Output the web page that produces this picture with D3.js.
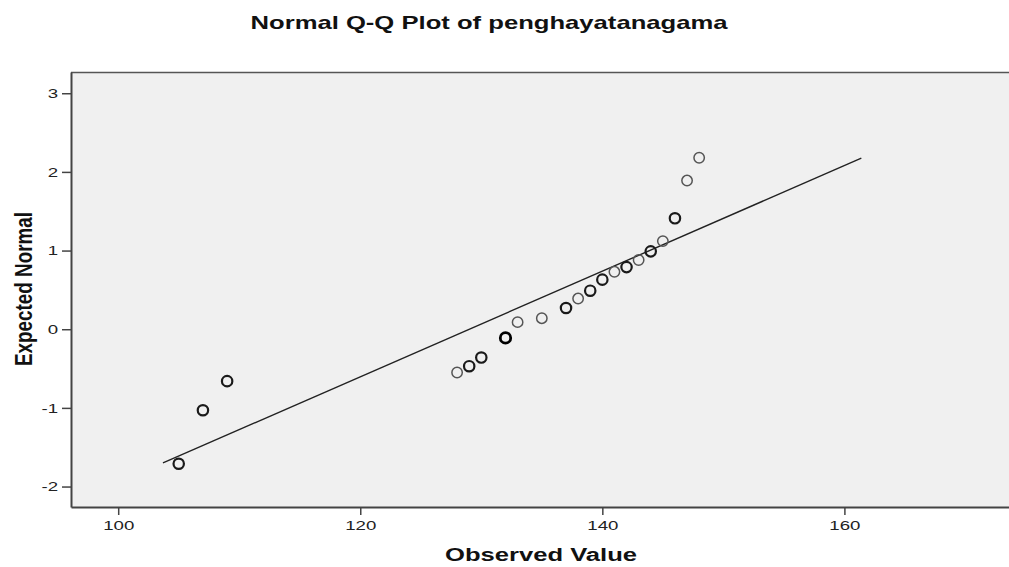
<!DOCTYPE html>
<html>
<head>
<meta charset="utf-8">
<script src="https://cdn.jsdelivr.net/npm/d3@7/dist/d3.min.js"></script>
<style>
  html, body { margin: 0; padding: 0; background: #ffffff; }
  svg { display: block; }
  text { font-family: "Liberation Sans", Arial, sans-serif; }
</style>
</head>
<body>
<svg id="chart" width="1009" height="567"></svg>
<script>
// ---- data ----
const observed = [105, 107, 109, 128, 129, 130, 132, 133, 135, 137, 138, 139, 140, 141, 142, 143, 144, 145, 146, 147, 148];
const expected = [-1.71, -1.03, -0.66, -0.55, -0.47, -0.36, -0.11, 0.09, 0.14, 0.27, 0.39, 0.49, 0.63, 0.73, 0.79, 0.88, 0.99, 1.12, 1.41, 1.89, 2.18];
const frequency = [2, 2, 2, 1, 2, 2, 3, 1, 1, 2, 1, 2, 2, 1, 2, 1, 2, 1, 2, 1, 1];
const lineX = [103.7, 161.4];
const lineY = [-1.70, 2.175];
const xTicks = [100, 120, 140, 160];
const yTicks = [-2, -1, 0, 1, 2, 3];
const titleText = "Normal Q-Q Plot of penghayatanagama";
const xLabel = "Observed Value";
const yLabel = "Expected Normal";

(function () {
// ---- layout ----
const svg = d3.select("#chart");
const pLeft = 71, pRight = 1009, pTop = 72, pBottom = 507;
const x = d3.scaleLinear().domain([96.1, 173.6]).range([pLeft, pRight]);
const y = d3.scaleLinear().domain([-2.26, 3.27]).range([pBottom, pTop]);
const stretch = 1.38;
const fmt = d => String(d);

function stretchText(sel) {
  sel.each(function() {
    const w = this.getComputedTextLength();
    d3.select(this).attr("textLength", w * stretch).attr("lengthAdjust", "spacingAndGlyphs");
  });
}

// plot background
svg.append("rect").attr("x", pLeft).attr("y", pTop)
  .attr("width", pRight - pLeft).attr("height", pBottom - pTop)
  .attr("fill", "#f0f0f0");

// top border
svg.append("line").attr("x1", pLeft).attr("x2", pRight).attr("y1", pTop + 0.5).attr("y2", pTop + 0.5)
  .attr("stroke", "#555").attr("stroke-width", 1.5);

// axes
const xAxis = d3.axisBottom(x).tickValues(xTicks).tickFormat(fmt).tickSize(8).tickPadding(4).tickSizeOuter(0);
const gx = svg.append("g").attr("transform", `translate(0,${pBottom})`).call(xAxis);
gx.select(".domain").attr("stroke", "#444").attr("stroke-width", 2);
gx.selectAll(".tick line").attr("stroke", "#444").attr("stroke-width", 1.5);
gx.selectAll(".tick text").attr("font-size", 13.5).attr("fill", "#222")
  .attr("font-family", "'Liberation Sans', Arial, sans-serif").attr("dy", "0.85em");
gx.selectAll(".tick text").call(stretchText);

const yAxis = d3.axisLeft(y).tickValues(yTicks).tickFormat(fmt).tickSize(9).tickPadding(4).tickSizeOuter(0);
const gy = svg.append("g").attr("transform", `translate(${pLeft},0)`).call(yAxis);
gy.select(".domain").attr("stroke", "#444").attr("stroke-width", 2);
gy.selectAll(".tick line").attr("stroke", "#444").attr("stroke-width", 1.5);
gy.selectAll(".tick text").attr("font-size", 13.5).attr("fill", "#222")
  .attr("font-family", "'Liberation Sans', Arial, sans-serif");
gy.selectAll(".tick text").call(stretchText);

// reference line
svg.append("line")
  .attr("x1", x(lineX[0])).attr("y1", y(lineY[0]))
  .attr("x2", x(lineX[1])).attr("y2", y(lineY[1]))
  .attr("stroke", "#222").attr("stroke-width", 1.4);

// points
const pts = observed.map((v, i) => ({ ox: v, ey: expected[i], f: frequency[i] }));
svg.append("g").selectAll("circle").data(pts).enter().append("circle")
  .attr("cx", d => x(d.ox)).attr("cy", d => y(d.ey))
  .attr("r", 5.2)
  .attr("fill", "none")
  .attr("stroke", d => d.f >= 3 ? "#000" : d.f === 2 ? "#1a1a1a" : "#555")
  .attr("stroke-width", d => d.f >= 3 ? 2.8 : d.f === 2 ? 2.2 : 1.5);

// title
svg.append("text").attr("x", 489).attr("y", 29).attr("text-anchor", "middle")
  .attr("font-size", 19).attr("font-weight", "bold").attr("fill", "#111")
  .text(titleText)
  .attr("textLength", 477).attr("lengthAdjust", "spacingAndGlyphs");

// x label
svg.append("text").attr("x", 541).attr("y", 561).attr("text-anchor", "middle")
  .attr("font-size", 18).attr("font-weight", "bold").attr("fill", "#111")
  .text(xLabel)
  .attr("textLength", 192).attr("lengthAdjust", "spacingAndGlyphs");

// y label (glyphs widened horizontally like the reference)
svg.append("text").attr("transform", "translate(32,289) rotate(-90) scale(1,1.3)")
  .attr("text-anchor", "middle")
  .attr("font-size", 19).attr("font-weight", "bold").attr("fill", "#111")
  .text(yLabel)
  .attr("textLength", 154).attr("lengthAdjust", "spacingAndGlyphs");
})();
</script>
</body>
</html>
